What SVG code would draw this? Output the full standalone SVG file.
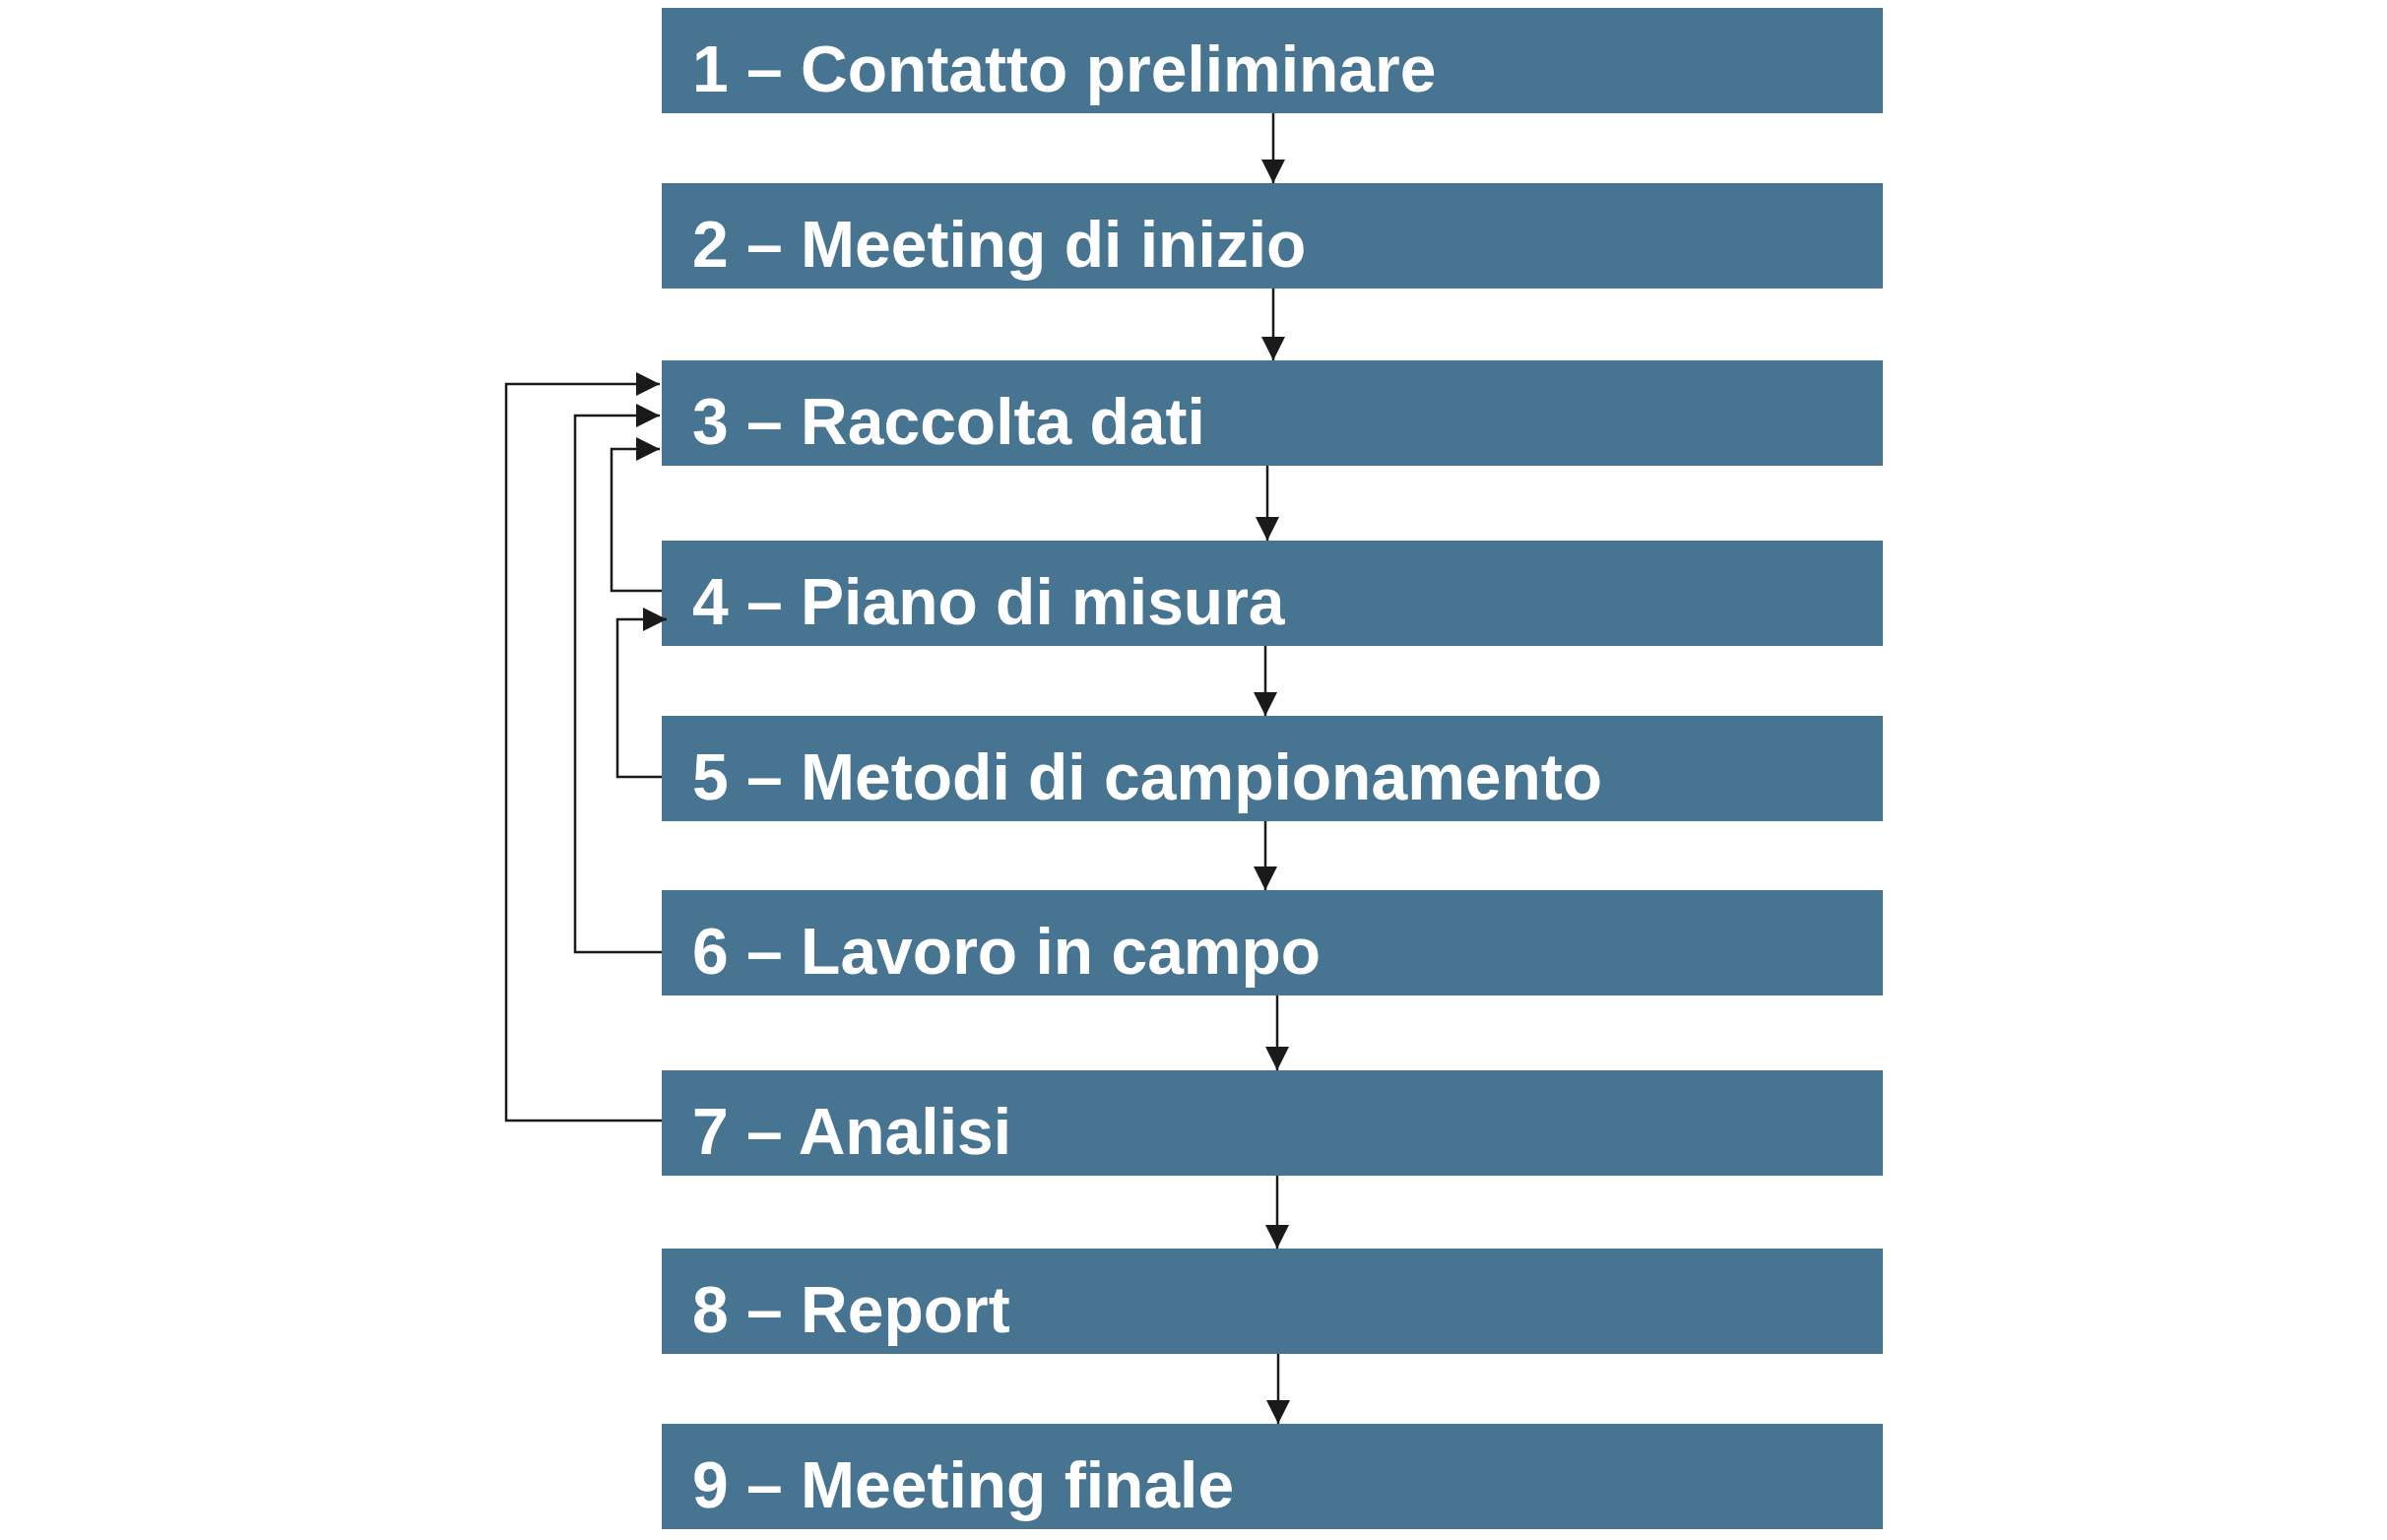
<svg xmlns="http://www.w3.org/2000/svg" width="2424" height="1564" viewBox="0 0 2424 1564">
<defs>
<style>
.box{fill:#477491}
.t{font-family:"Liberation Sans",Arial,sans-serif;font-weight:bold;font-size:66px;fill:#fff}
.c{stroke:#1a1a1a;stroke-width:2.5;fill:none}
</style>
<marker id="a" viewBox="0 0 10 10" refX="10" refY="5" markerWidth="24" markerHeight="24" markerUnits="userSpaceOnUse" orient="auto"><path d="M0,0 L10,5 L0,10 z" fill="#1a1a1a"/></marker>
</defs>
<rect width="2424" height="1564" fill="#fff"/>
<g id="n1"><rect class="box" x="672" y="8" width="1240" height="107"/><text class="t" x="703" y="93">1 – Contatto preliminare</text></g>
<g id="n2"><rect class="box" x="672" y="186" width="1240" height="107"/><text class="t" x="703" y="271">2 – Meeting di inizio</text></g>
<g id="n3"><rect class="box" x="672" y="366" width="1240" height="107"/><text class="t" x="703" y="451">3 – Raccolta dati</text></g>
<g id="n4"><rect class="box" x="672" y="549" width="1240" height="107"/><text class="t" x="703" y="634">4 – Piano di misura</text></g>
<g id="n5"><rect class="box" x="672" y="727" width="1240" height="107"/><text class="t" x="703" y="812">5 – Metodi di campionamento</text></g>
<g id="n6"><rect class="box" x="672" y="904" width="1240" height="107"/><text class="t" x="703" y="989">6 – Lavoro in campo</text></g>
<g id="n7"><rect class="box" x="672" y="1087" width="1240" height="107"/><text class="t" x="703" y="1172">7 – Analisi</text></g>
<g id="n8"><rect class="box" x="672" y="1268" width="1240" height="107"/><text class="t" x="703" y="1353">8 – Report</text></g>
<g id="n9"><rect class="box" x="672" y="1446" width="1240" height="107"/><text class="t" x="703" y="1531">9 – Meeting finale</text></g>
<g id="connectors">
<path class="c" marker-end="url(#a)" d="M1293,115 V186"/>
<path class="c" marker-end="url(#a)" d="M1293,293 V366"/>
<path class="c" marker-end="url(#a)" d="M1287,473 V549"/>
<path class="c" marker-end="url(#a)" d="M1285,656 V727"/>
<path class="c" marker-end="url(#a)" d="M1285,834 V904"/>
<path class="c" marker-end="url(#a)" d="M1297,1011 V1087"/>
<path class="c" marker-end="url(#a)" d="M1297,1194 V1268"/>
<path class="c" marker-end="url(#a)" d="M1298,1375 V1446"/>
<path class="c" marker-end="url(#a)" d="M672,1138 H514 V390 H670"/>
<path class="c" marker-end="url(#a)" d="M672,967 H584 V422 H670"/>
<path class="c" marker-end="url(#a)" d="M672,600 H621 V456 H670"/>
<path class="c" marker-end="url(#a)" d="M672,789 H627 V629 H677"/>
</g>
</svg>
